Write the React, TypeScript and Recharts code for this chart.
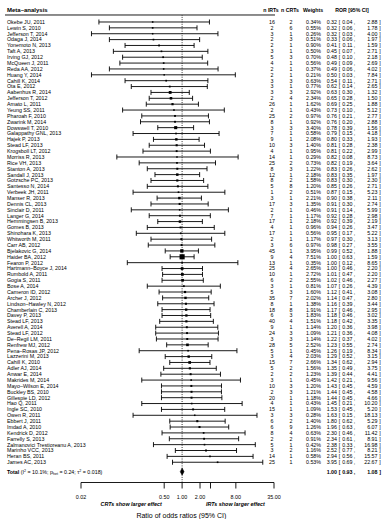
import React from "react";
import { ScatterChart, Scatter, XAxis, YAxis, ErrorBar, ReferenceLine, Label } from "recharts";

const studies = [
  "Okebe JU, 2011", "Lewin S, 2010", "Jefferson T, 2014", "Odaga J, 2014", "Yonemoto N, 2013",
  "Taft A, 2013", "Irving GJ, 2012", "McQueen J, 2011", "Reda AA, 2012", "Huang Y, 2014",
  "Cahill K, 2014", "Ota E, 2012", "Aabenhus R, 2014", "Jefferson T, 2012", "Amato L, 2011",
  "Yeung SS, 2011", "Pharoah F, 2010", "Zwarink M, 2014", "Dowswell T, 2010", "Galappathy GNL, 2013",
  "Hajek P, 2013", "Stead LF, 2013", "Krogsboll LT, 2012", "Morriss R, 2013", "Rice VH, 2013",
  "Stanton A, 2013", "Sandall J, 2013", "Gotzsche PC, 2013", "Santesso N, 2014", "Verbeek JH, 2011",
  "Manser R, 2013", "Dennis CL, 2013", "Sinclair D, 2011", "Langer G, 2014", "Hemmingsen B, 2013",
  "Gomes B, 2013", "Shinohara K, 2013", "Whitworth M, 2011", "Carr AB, 2012", "Bjelakovic G, 2014",
  "Haider BA, 2012", "Fearon P, 2012", "Hartmann\u2013Boyce J, 2014", "Rumbold A, 2011", "Gogia S, 2011",
  "Bose A, 2014", "Cameron ID, 2012", "Archer J, 2012", "Lindson\u2013Hawley N, 2012", "Chamberlain C, 2013",
  "Davey P, 2013", "Stead LF, 2013", "Averell A, 2014", "Stead LF, 2012", "De\u2013Regil LM, 2011",
  "Renfrew MJ, 2012", "Pena\u2013Rosas JP, 2012", "Lazzerini M, 2013", "Cahill K, 2010", "Adler AJ, 2014",
  "Anwar E, 2014", "Makrides M, 2014", "Mayo\u2013Wilson E, 2014", "Buckley BS, 2010", "Gillespie LD, 2012",
  "Hao Q, 2011", "Ingle SC, 2010", "Owen R, 2011", "Ebbert J, 2011", "Imdad A, 2010",
  "Kendrick D, 2012", "Farrelly S, 2013", "Zalmanovici Trestioreanu A, 2013", "Marinho VCC, 2013", "Heran BS, 2011",
  "James AC, 2013",
];

const nIRTs = [
  16, 2, 3, 2, 2, 3, 5, 4, 2, 2, 3, 3, 3, 2, 26, 2, 25, 8,
  3, 7, 9, 10, 4, 14, 25, 8, 12, 8, 5, 1, 3, 17, 2, 7, 17, 4, 17, 2, 3, 45,
  9, 13, 25, 10, 6, 3, 5, 35, 8, 18, 6, 40, 9, 24, 3, 28, 5, 3, 15, 5, 2,
  3, 10, 2, 20, 4, 15, 3, 6, 6, 8, 2, 5, 3, 14, 25,
];

const nCRTs = [
  2, 6, 1, 3, 1, 1, 3, 1, 1, 1, 3, 1, 3, 4, 1, 1, 2, 1,
  3, 1, 1, 3, 1, 1, 2, 3, 1, 2, 8, 2, 1, 3, 1, 1, 1, 1, 1, 1, 6, 1,
  4, 1, 4, 1, 2, 1, 3, 7, 1, 8, 3, 4, 1, 3, 3, 5, 1, 4, 7, 2, 2,
  1, 3, 3, 1, 1, 1, 3, 2, 9, 4, 2, 1, 2, 1, 1,
];

const weights = [
  0.34, 0.55, 0.26, 0.51, 0.90, 0.50, 0.70, 0.56, 0.37, 0.21, 0.63, 0.77, 2.92, 2.34, 1.62, 0.43, 0.97, 0.92,
  3.40, 0.58, 2.08, 1.40, 0.95, 0.29, 0.73, 1.22, 2.18, 1.58, 1.20, 0.51, 2.21, 1.35, 0.46, 1.17, 2.18, 0.96, 0.56, 1.17, 0.97, 3.95,
  7.51, 0.35, 2.65, 2.72, 2.55, 0.81, 1.60, 2.02, 1.38, 1.91, 1.83, 1.51, 1.14, 1.09, 1.14, 2.52, 0.45, 2.03, 2.66, 1.56, 1.23,
  0.45, 1.20, 1.21, 1.18, 0.43, 1.09, 0.28, 1.40, 1.26, 0.63, 0.91, 0.42, 1.16, 0.58, 0.53,
];

const ror = [
  0.32, 0.32, 0.32, 0.33, 0.41, 0.45, 0.48, 0.49, 0.49, 0.50, 0.54, 0.62, 0.63, 0.65, 0.69, 0.73, 0.76, 0.76,
  0.78, 0.79, 0.80, 0.81, 0.81, 0.82, 0.82, 0.83, 0.83, 0.83, 0.85, 0.87, 0.90, 0.91, 0.91, 0.92, 0.92, 0.94, 0.95, 0.97, 0.98, 0.99,
  1.00, 1.00, 1.00, 1.01, 1.02, 1.07, 1.12, 1.14, 1.16, 1.17, 1.18, 1.18, 1.20, 1.21, 1.22, 1.23, 1.26, 1.29, 1.34, 1.35, 1.39,
  1.42, 1.43, 1.44, 1.44, 1.45, 1.53, 1.63, 1.80, 1.96, 2.30, 2.34, 2.38, 2.52, 2.94, 3.95,
];

const ciLow = [
  0.04, 0.06, 0.03, 0.06, 0.11, 0.07, 0.10, 0.09, 0.06, 0.03, 0.11, 0.14, 0.30, 0.28, 0.25, 0.10, 0.21, 0.20,
  0.39, 0.15, 0.33, 0.28, 0.22, 0.08, 0.19, 0.26, 0.35, 0.30, 0.26, 0.15, 0.38, 0.30, 0.14, 0.28, 0.39, 0.26, 0.17, 0.30, 0.27, 0.52,
  0.63, 0.12, 0.46, 0.47, 0.46, 0.26, 0.41, 0.47, 0.39, 0.46, 0.46, 0.42, 0.36, 0.36, 0.37, 0.55, 0.19, 0.52, 0.62, 0.49, 0.44,
  0.21, 0.45, 0.45, 0.45, 0.21, 0.45, 0.15, 0.62, 0.63, 0.46, 0.61, 0.33, 0.77, 0.56, 0.69,
];

const ciHigh = [
  2.88, 1.78, 4.00, 1.97, 1.59, 2.71, 2.18, 2.69, 4.02, 7.84, 2.71, 2.65, 1.32, 1.50, 1.88, 5.12, 2.77, 2.88,
  1.56, 4.18, 1.93, 2.38, 2.99, 8.73, 3.64, 2.62, 1.97, 2.30, 2.71, 5.23, 2.11, 2.74, 5.99, 2.98, 2.19, 3.47, 5.22, 3.13, 3.55, 1.88,
  1.59, 8.65, 2.20, 2.20, 2.27, 4.39, 3.08, 2.80, 3.44, 2.95, 3.02, 3.35, 3.98, 4.08, 4.02, 2.74, 8.34, 3.15, 2.94, 3.75, 4.41,
  9.56, 4.59, 4.58, 4.66, 10.20, 5.20, 18.13, 5.29, 6.07, 11.42, 8.91, 16.98, 8.21, 15.57, 22.67,
];

const pooled = { est: 1.0, lo: 0.93, hi: 1.08 };
const xTicks = [0.02, 0.5, 1, 2, 3, 8, 35];
const xTickLabels = ["0.02", "0.50", "1.00", "2.00", "", "8.00", "35.00"];

const TOTAL_ROW = 76.6;
const FONT = "'Liberation Sans', Arial, Helvetica, sans-serif";

const rows = studies.map((name, i) => ({
  x: ror[i],
  y: i,
  w: weights[i],
  err: [ror[i] - ciLow[i], ciHigh[i] - ror[i]],
}));

const diamond = [
  { x: pooled.lo, y: TOTAL_ROW },
  { x: pooled.est, y: TOTAL_ROW - 0.6 },
  { x: pooled.hi, y: TOTAL_ROW },
  { x: pooled.est, y: TOTAL_ROW + 0.6 },
  { x: pooled.lo, y: TOTAL_ROW },
];

const rowTicks = [...studies.map((_, i) => i), TOTAL_ROW];

const minW = Math.min(...weights);
const maxW = Math.max(...weights);

function Square(props: any) {
  const { cx, cy, payload } = props;
  if (cx == null || cy == null) return <g />;
  const s = 1.5 + ((payload.w - minW) / (maxW - minW)) * 3.6;
  return <rect x={cx - s / 2} y={cy - s / 2} width={s} height={s} fill="#000" />;
}

function RorText({ y, est, lo, hi, bold }: any) {
  const fw = bold ? "bold" : "normal";
  return (
    <g fontWeight={fw}>
      <text x={337} y={y} textAnchor="end">{est.toFixed(2)}</text>
      <text x={338.8} y={y}>[</text>
      <text x={352.5} y={y} textAnchor="end">{lo.toFixed(2)}</text>
      <text x={353.8} y={y}>,</text>
      <text x={377.5} y={y} textAnchor="end">{hi.toFixed(2)}</text>
      <text x={379.2} y={y}>]</text>
    </g>
  );
}

function RowTick(props: any) {
  const { y, payload } = props;
  const v = payload.value;
  const by = y + 1.9;
  if (v === TOTAL_ROW) {
    return (
      <g fontFamily={FONT} fontSize={5.3} fill="#000">
        <text x={7} y={by}>
          <tspan fontWeight="bold">Total</tspan>
          <tspan> (I</tspan>
          <tspan fontSize={3.6} dy={-2}>2</tspan>
          <tspan dy={2}> = 10.1%; p</tspan>
          <tspan fontSize={3.6} dy={1}>het</tspan>
          <tspan dy={-1}> = 0.24; {"\u03c4"}</tspan>
          <tspan fontSize={3.6} dy={-2}>2</tspan>
          <tspan dy={2}> = 0.018)</tspan>
        </text>
        <RorText y={by} est={pooled.est} lo={pooled.lo} hi={pooled.hi} bold />
      </g>
    );
  }
  const i = v as number;
  return (
    <g fontFamily={FONT} fontSize={5.3} fill="#000">
      {i === 0 && (
        <g fontWeight="bold" fontSize={5.2}>
          <text x={7} y={y - 10} fontSize={6}>Meta{"\u2013"}analysis</text>
          <text x={271} y={y - 10} textAnchor="middle">n IRTs</text>
          <text x={290} y={y - 10} textAnchor="middle">n CRTs</text>
          <text x={313} y={y - 10} textAnchor="middle">Weights</text>
          <text x={352} y={y - 10} textAnchor="middle">ROR [95% CI]</text>
          <line x1={5} x2={275} y1={y - 7} y2={y - 7} stroke="#000" strokeWidth={0.9} />
        </g>
      )}
      <text x={7} y={by}>{studies[i]}</text>
      <text x={272} y={by} textAnchor="middle">{nIRTs[i]}</text>
      <text x={291} y={by} textAnchor="middle">{nCRTs[i]}</text>
      <text x={321} y={by} textAnchor="end">{weights[i].toFixed(2)}%</text>
      <RorText y={by} est={ror[i]} lo={ciLow[i]} hi={ciHigh[i]} />
    </g>
  );
}

function XTick(props: any) {
  const { x, y, index } = props;
  const label = xTickLabels[index] ?? "";
  return (
    <g>
      <line x1={x} x2={x} y1={y} y2={y + 6} stroke="#000" strokeWidth={0.9} />
      <text x={x} y={y + 16.5} textAnchor="middle" fontFamily={FONT} fontSize={5.4} fill="#000">
        {label}
      </text>
    </g>
  );
}

function AxisTitles(props: any) {
  const vb = props.viewBox || {};
  const x0 = vb.x ?? 81;
  const w = vb.width ?? 193;
  const y0 = vb.y ?? 482.5;
  return (
    <g fontFamily={FONT} fill="#000">
      <text x={x0 + w * 0.26} y={y0 + 23.5} textAnchor="middle" fontSize={5.4} fontWeight="bold" fontStyle="italic">
        CRTs show larger effect
      </text>
      <text x={x0 + w * 0.8} y={y0 + 23.5} textAnchor="middle" fontSize={5.4} fontWeight="bold" fontStyle="italic">
        IRTs show larger effect
      </text>
      <text x={x0 + w * 0.52} y={y0 + 35} textAnchor="middle" fontSize={7}>
        Ratio of odds ratios (95% CI)
      </text>
    </g>
  );
}

export default function App() {
  return (
    <div style={{ width: 385, height: 519, background: "#fff" }}>
      <style>{"body{margin:0}"}</style>
      <ScatterChart width={385} height={519} margin={{ top: 15, right: 111, bottom: 0, left: 0 }}>
        <XAxis
          type="number"
          dataKey="x"
          scale="log"
          domain={[0.02, 35]}
          allowDataOverflow
          ticks={xTicks}
          interval={0}
          tickSize={0}
          tickMargin={0}
          tickLine={false}
          axisLine={{ stroke: "#000", strokeWidth: 0.9 }}
          tick={<XTick />}
          height={36.5}
        >
          <Label content={<AxisTitles />} />
        </XAxis>
        <YAxis
          type="number"
          dataKey="y"
          domain={[-1.19, 78.45]}
          allowDataOverflow
          reversed
          width={81}
          ticks={rowTicks}
          interval={0}
          axisLine={false}
          tickLine={false}
          tick={<RowTick />}
        />
        <ReferenceLine x={1} stroke="#000" strokeWidth={0.8} strokeDasharray="1 1.3" />
        <Scatter data={rows} shape={<Square />} isAnimationActive={false}>
          <ErrorBar dataKey="err" direction="x" width={2.5} stroke="#000" strokeWidth={0.9} isAnimationActive={false} />
        </Scatter>
        <Scatter
          data={diamond}
          shape={() => <g />}
          line={{ stroke: "#000", strokeWidth: 0.5, fill: "#000" }}
          lineType="joint"
          isAnimationActive={false}
        />
      </ScatterChart>
    </div>
  );
}
